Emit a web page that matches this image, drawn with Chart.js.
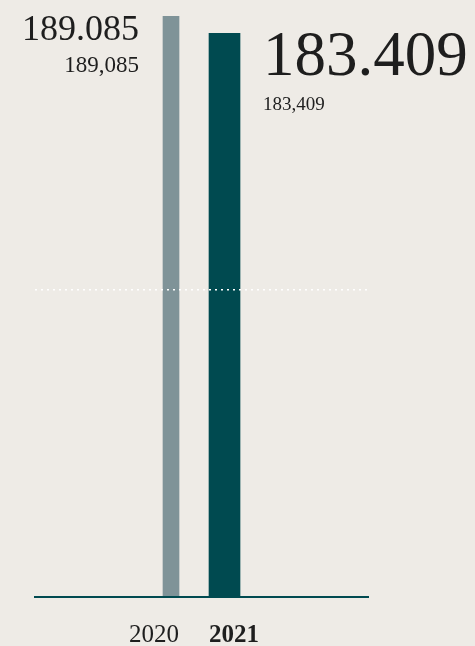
<!DOCTYPE html>
<html>
<head>
<meta charset="utf-8">
<script src="https://cdn.jsdelivr.net/npm/chart.js@4"></script>
<style>
  html, body { margin: 0; padding: 0; background: #eeebe6; }
  #wrap { width: 475px; height: 646px; }
</style>
</head>
<body>
<div id="wrap"><canvas id="c" width="475" height="646"></canvas></div>
<script>
// data
const years = [2020, 2021];
const values = [189.085, 183.409];
const bigLabels = ['189.085', '183.409'];
const smallLabels = ['189,085', '183,409'];
const gridValues = [100];

const barColors = ['#7f9398', '#004a50'];
const serif = "'Liberation Serif', 'DejaVu Serif', serif";

// draws the value labels and the year labels next to each bar
const valueLabels = {
  id: 'valueLabels',
  afterDraw(chart) {
    const ctx = chart.ctx;
    const bottom = chart.chartArea.bottom;
    ctx.save();
    ctx.fillStyle = '#1e1e1e';
    ctx.textBaseline = 'alphabetic';
    // 2020: left of bar, right aligned
    const b0 = chart.getDatasetMeta(0).data[0];
    ctx.textAlign = 'right';
    ctx.font = '36px ' + serif;
    ctx.fillText(bigLabels[0], b0.x - b0.width / 2 - 24, b0.y + 24);
    ctx.font = '23px ' + serif;
    ctx.fillText(smallLabels[0], b0.x - b0.width / 2 - 24, b0.y + 56);
    ctx.font = '25px ' + serif;
    ctx.fillText(String(years[0]), b0.x + b0.width / 2, bottom + 45);
    // 2021: right of bar, left aligned
    const b1 = chart.getDatasetMeta(1).data[0];
    ctx.textAlign = 'left';
    ctx.font = '63px ' + serif;
    ctx.fillText(bigLabels[1], b1.x + b1.width / 2 + 23, b1.y + 42);
    ctx.font = '19px ' + serif;
    ctx.fillText(smallLabels[1], b1.x + b1.width / 2 + 23, b1.y + 77);
    ctx.font = 'bold 25px ' + serif;
    ctx.fillText(String(years[1]), b1.x - b1.width / 2, bottom + 45);
    ctx.restore();
  }
};

new Chart(document.getElementById('c'), {
  type: 'bar',
  data: {
    datasets: [
      {
        data: [{ x: years[0], y: values[0] }],
        backgroundColor: barColors[0],
        barThickness: 16
      },
      {
        data: [{ x: years[1], y: values[1] }],
        backgroundColor: barColors[1],
        barThickness: 31
      }
    ]
  },
  options: {
    responsive: false,
    animation: false,
    grouped: false,
    layout: { padding: { left: 35, right: 107, top: 16, bottom: 0 } },
    plugins: { legend: { display: false }, tooltip: { enabled: false } },
    scales: {
      x: {
        type: 'linear',
        offset: false,
        min: 2017.458,
        max: 2023.682,
        afterBuildTicks: (s) => { s.ticks = years.map(v => ({ value: v })); },
        afterFit: (s) => { s.height = 49; },
        grid: { display: false, drawTicks: false },
        border: { display: true, color: '#004a50', width: 2, z: 1 },
        ticks: { display: false }
      },
      y: {
        min: 0,
        max: values[0],
        afterBuildTicks: (s) => { s.ticks = gridValues.map(v => ({ value: v })); },
        ticks: { display: false },
        grid: { color: '#ffffff', lineWidth: 1.5, drawTicks: false, z: 1 },
        border: { display: false, dash: [2, 4] }
      }
    }
  },
  plugins: [valueLabels]
});
</script>
</body>
</html>
